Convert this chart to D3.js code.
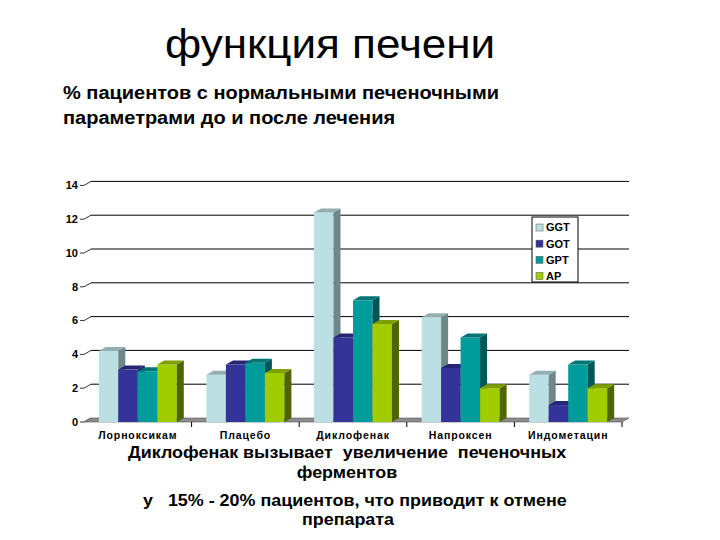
<!DOCTYPE html>
<html><head><meta charset="utf-8">
<script src="https://cdn.jsdelivr.net/npm/d3@7"></script>
<style>body{margin:0;background:#fff}svg{display:block}text{font-family:"Liberation Sans",Arial,sans-serif}</style>
</head><body>
<svg id="c" width="720" height="540"></svg>
<script>
const categories = ["Лорноксикам","Плацебо","Диклофенак","Напроксен","Индометацин"];
const series = ["GGT","GOT","GPT","AP"];
const GGT = [4.2, 2.8, 12.4, 6.2, 2.8];
const GOT = [3.1, 3.4, 5.0, 3.2, 1.0];
const GPT = [3.0, 3.5, 7.2, 5.0, 3.4];
const AP  = [3.4, 2.9, 5.8, 2.0, 2.0];
const yTicks = [0,2,4,6,8,10,12,14];
const titleText = "функция печени";
const subtitleLines = ["% пациентов с нормальными печеночными","параметрами до и после лечения"];
const noteLines = ["Диклофенак вызывает  увеличение  печеночных","ферментов","у   15% - 20% пациентов, что приводит к отмене","препарата"];

const values = {GGT, GOT, GPT, AP};
const colors = {
  GGT: {front:"#BCDFE3", side:"#6E8789", top:"#94AFB2"},
  GOT: {front:"#333399", side:"#1C1C5E", top:"#262677"},
  GPT: {front:"#009C9C", side:"#005757", top:"#007575"},
  AP:  {front:"#A0CC00", side:"#4F6600", top:"#7DA000"}
};
const DX = 7, DY = 4;
const svg = d3.select("#c");

// horizontally stretched text helper (reference slide is stretched)
function stretch(sel, f, anchorX, mode) {
  sel.each(function() {
    const n = this, len = n.getComputedTextLength() * f;
    d3.select(n).attr("textLength", len).attr("lengthAdjust", "spacingAndGlyphs")
      .attr("text-anchor", "start");
    if (mode === "middle") d3.select(n).attr("x", anchorX - len / 2);
  });
}

const x0 = d3.scaleBand().domain(categories).range([84, 622]);
const x1 = d3.scaleBand().domain(series).range([0, x0.bandwidth()]).paddingOuter(0.76);
const y = d3.scaleLinear().domain([0, 14]).range([422, 185.4]);

// back wall gridlines
svg.append("g").selectAll("line").data(yTicks.filter(t => t > 0)).join("line")
  .attr("x1", 84 + DX).attr("x2", 622 + DX)
  .attr("y1", d => y(d) - DY).attr("y2", d => y(d) - DY)
  .attr("stroke", "#000").attr("stroke-width", 1);

// y ticks & labels
const yt = svg.append("g");
yt.selectAll("path").data(yTicks).join("path")
  .attr("d", d => `M80,${y(d)}H84L${84+DX},${y(d)-DY}`)
  .attr("fill", "none").attr("stroke", "#000").attr("stroke-width", 0.8);
yt.selectAll("text").data(yTicks).join("text")
  .attr("x", 78).attr("y", d => y(d)).attr("dy", "0.35em")
  .attr("text-anchor", "end").attr("font-size", 11).attr("font-weight", "bold")
  .text(d => d);

// floor
const y0 = y(0);
svg.append("path")
  .attr("d", `M84,${y0}L${84+DX},${y0-DY}H${622+DX}L622,${y0}Z`)
  .attr("fill", "#8C8C8C").attr("stroke", "#555").attr("stroke-width", 0.6);

// x category ticks
svg.append("g").selectAll("line").data(categories.slice(1).map(c => x0(c)).concat([622]))
  .join("line").attr("x1", d => d).attr("x2", d => d).attr("y1", y0).attr("y2", y0 + 5)
  .attr("stroke", "#000").attr("stroke-width", 1);

// bars
const bars = [];
categories.forEach((c, i) => series.forEach(s => bars.push({c, s, v: values[s][i]})));
const bw = x1.bandwidth();
const g = svg.append("g");
bars.forEach(b => {
  const xl = x0(b.c) + x1(b.s), xr = xl + bw, yt0 = y(b.v);
  const col = colors[b.s];
  const bg = g.append("g");
  bg.append("rect").attr("x", xl).attr("y", yt0).attr("width", bw).attr("height", y0 - yt0)
    .attr("fill", col.front);
  bg.append("path").attr("d", `M${xr},${y0}L${xr+DX},${y0-DY}V${yt0-DY}L${xr},${yt0}Z`)
    .attr("fill", col.side);
  bg.append("path").attr("d", `M${xl},${yt0}L${xl+DX},${yt0-DY}H${xr+DX}L${xr},${yt0}Z`)
    .attr("fill", col.top);
});

// category labels
svg.append("g").selectAll("text").data(categories).join("text")
  .attr("x", d => x0(d) + x0.bandwidth()/2).attr("y", 439)
  .attr("text-anchor", "middle").attr("font-size", 10.5).attr("font-weight", "bold")
  .attr("letter-spacing", 0.9)
  .text(d => d);

// legend
const lg = svg.append("g");
lg.append("rect").attr("x", 532).attr("y", 217).attr("width", 46).attr("height", 65)
  .attr("fill", "#fff").attr("stroke", "#000").attr("stroke-width", 1);
const ly = d3.scalePoint().domain(series).range([227.5, 276]);
series.forEach(s => {
  lg.append("rect").attr("x", 536).attr("y", ly(s) - 3.5).attr("width", 7).attr("height", 7)
    .attr("fill", colors[s].front).attr("stroke", "#555").attr("stroke-width", 0.5);
  lg.append("text").attr("x", 546).attr("y", ly(s)).attr("dy", "0.36em")
    .attr("font-size", 11).attr("font-weight", "bold").text(s);
});

// titles
const t = svg.append("text").attr("x", 165).attr("y", 58)
  .attr("font-size", 40).text(titleText);
stretch(t, 1.1, 165, "start");
const st = svg.append("g").selectAll("text").data(subtitleLines).join("text")
  .attr("x", 63).attr("y", (d, i) => 99 + i * 25)
  .attr("font-size", 18).attr("font-weight", "bold").text(d => d);
stretch(st, 1.11, 63, "start");

const noteX = [128, 347, 143, 348];
const noteMode = ["start", "middle", "start", "middle"];
const noteY = [458, 478, 506, 525];
svg.append("g").selectAll("text").data(noteLines).join("text")
  .attr("x", (d, i) => noteX[i])
  .attr("y", (d, i) => noteY[i])
  .attr("font-size", 17).attr("font-weight", "bold")
  .style("white-space", "pre")
  .text(d => d)
  .each(function(d, i) { stretch(d3.select(this), 1.053, noteX[i], noteMode[i]); });
</script>
</body></html>
